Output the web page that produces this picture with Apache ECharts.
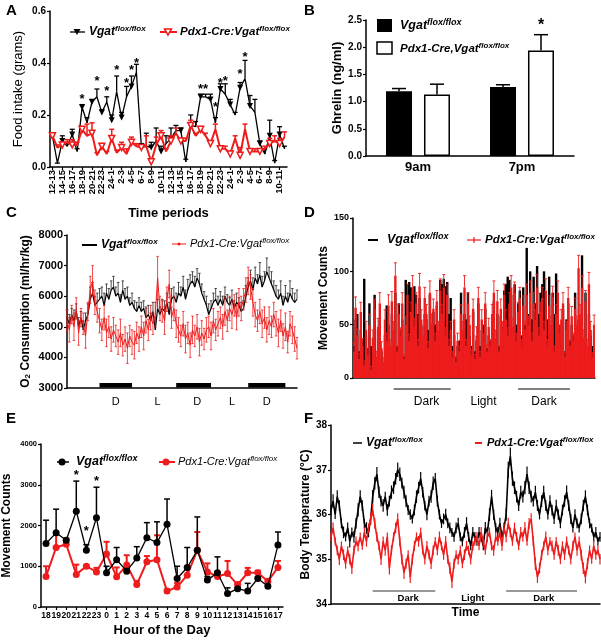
<!DOCTYPE html>
<html><head><meta charset="utf-8">
<script src="https://cdn.jsdelivr.net/npm/echarts@6.0.0/dist/echarts.min.js"></script>
<style>html,body{margin:0;padding:0;background:#fff}#c{width:601px;height:640px}</style>
</head><body><div id="c"></div>
<script>
// ---------- Panel A : food intake ----------
const aPeriods = ['12-13','13-14','14-15','15-16','16-17','17-18','18-19','19-20','20-21','21-22','22-23','23-24','24-1','1-2','2-3','3-4','4-5','5-6','6-7','7-8','8-9','9-10','10-11','11-12',
                  '12-13','13-14','14-15','15-16','16-17','17-18','18-19','19-20','20-21','21-22','22-23','23-24','24-1','1-2','2-3','3-4','4-5','5-6','6-7','7-8','8-9','9-10','10-11','11-12'];
const aVgat = [0.12,0.015,0.10,0.08,0.125,0.06,0.23,0.17,0.25,0.27,0.21,0.25,
               0.18,0.29,0.19,0.27,0.31,0.365,0.08,0.08,0.075,0.10,0.06,0.09,
               0.11,0.14,0.14,0.02,0.16,0.155,0.27,0.27,0.26,0.17,0.30,0.28,
               0.24,0.20,0.305,0.34,0.235,0.21,0.09,0.05,0.12,0.015,0.125,0.07];
const aVgatErr = [0.01,0.0,0.02,0.01,0.02,0.01,0.01,0.02,0.01,0.03,0.01,0.02,
                  0.02,0.06,0.02,0.04,0.04,0.03,0.01,0.05,0.02,0.05,0.02,0.03,
                  0.04,0.02,0.01,0.01,0.04,0.02,0.01,0.01,0.02,0.02,0.02,0.04,
                  0.02,0.01,0.02,0.07,0.04,0.05,0.01,0.02,0.06,0.01,0.03,0.01];
const aPdx = [0.12,0.075,0.085,0.095,0.085,0.085,0.145,0.12,0.13,0.045,0.08,0.05,
              0.11,0.055,0.075,0.05,0.095,0.08,0.075,0.08,0.02,0.085,0.12,0.06,
              0.10,0.13,0.10,0.10,0.16,0.12,0.145,0.12,0.09,0.145,0.07,0.07,
              0.05,0.11,0.045,0.145,0.06,0.06,0.06,0.07,0.09,0.10,0.09,0.115];
const aPdxErr = [0.0,0.01,0.01,0.01,0.02,0.01,0.01,0.045,0.04,0.01,0.01,0.01,
                 0.035,0.01,0.02,0.02,0.02,0.01,0.01,0.04,0.01,0.03,0.02,0.01,
                 0.02,0.02,0.01,0.01,0.02,0.01,0.01,0.01,0.01,0.02,0.01,0.01,
                 0.01,0.01,0.03,0.02,0.01,0.01,0.01,0.01,0.02,0.02,0.02,0.02];
const aStars = [[6,0.26],[9,0.33],[11,0.29],[13,0.37],[15,0.32],[16,0.37],[17,0.40],[30,0.30],[31,0.30],[33,0.23],[34,0.32],[35,0.33],[38,0.355],[39,0.42]];

// ---------- Panel B : ghrelin ----------
const bTimes = ['9am','7pm'];
const bVgat = [1.19,1.27];
const bVgatErr = [0.05,0.04];
const bPdx = [1.13,1.94];
const bPdxErr = [0.19,0.29];
const bStars = [[1,2.40]];

// ---------- Panel C : O2 consumption ----------
const cVgat = [5300,5100,5400,5200,5500,5000,5300,4900,5200,5400,
               5900,6100,5700,5800,5900,6000,5700,6100,5900,6200,
               6300,6000,6100,5800,6200,5900,6000,5700,5800,5600,
               5500,5700,5500,5600,5300,5400,5200,5500,4900,5600,
               5400,5600,5500,5800,5400,5900,6000,5800,6100,6000,
               6300,5900,6200,6400,6500,6300,6600,6400,6100,5900,
               5700,5400,5600,5800,5900,5700,5900,5700,6000,5800,
               5700,5900,5600,5800,5700,5500,5600,6000,6300,6500,
               6200,6600,6400,6700,6300,6500,6800,6600,6400,6200,
               6000,5900,6100,5700,6000,5800,6100,5900,5800,5900];
const cVgatErr = [250,300,200,350,250,300,200,300,250,350,
                  400,350,300,300,350,300,400,300,350,300,
                  350,300,350,250,300,350,300,250,300,250,
                  300,250,300,250,350,300,250,300,400,300,
                  250,300,350,300,400,350,300,300,350,300,
                  350,300,350,300,300,350,300,350,300,250,
                  300,350,250,300,350,300,250,300,300,250,
                  250,300,250,300,250,300,250,350,300,350,
                  400,350,300,400,350,300,450,350,400,300,
                  350,300,400,300,350,300,400,350,300,300];
const cPdx = [5200,4900,5400,5000,5600,4800,5300,5100,4700,5500,
              6200,6500,5800,5500,5200,4900,5300,4800,5000,4600,
              4900,4700,4500,4800,4400,4600,4300,4700,4500,4400,
              4800,4600,5000,4700,5200,4900,5300,5100,5400,6600,
              5600,5500,5200,5900,6400,5300,5600,5100,4900,4700,
              5100,4600,4800,4400,4900,4700,5000,4500,4800,4600,
              4900,5000,4700,5200,4900,5100,5300,5000,5500,5200,
              5600,5400,5700,5300,5800,5600,5900,6200,6500,6300,
              5800,5400,5200,5500,5100,5300,4900,5200,5000,5400,
              5100,4800,5200,4700,5000,4500,5100,4900,4600,4300];
const cPdxErr = [350,400,300,450,350,400,300,350,400,300,
                 450,500,400,350,400,350,400,450,350,400,
                 400,350,400,450,350,400,500,350,400,450,
                 350,400,350,450,400,350,400,350,400,700,
                 400,350,450,400,450,350,400,450,400,350,
                 400,450,350,400,450,350,400,450,400,350,
                 400,350,450,400,350,400,350,400,450,350,
                 400,450,350,400,450,400,350,400,450,400,
                 450,400,350,400,450,350,400,450,350,400,
                 400,450,350,400,450,350,400,450,400,350];
const cDarkBars = [[14,28],[47,62],[78,94]];
const cPhaseAt = [21,39,56,71,86];
const cPhaseText = ['D','L','D','L','D'];

// ---------- Panel D : movement counts (bars) ----------
const dVgat = [30,55,60,25,45,35,93,40,28,70,
               30,20,78,18,45,55,25,12,40,68,
               50,25,60,35,80,30,70,45,55,20,
               92,88,90,85,80,86,78,60,75,50,
               35,60,55,45,78,40,62,50,68,30,
               92,88,93,86,90,60,75,30,40,20,
               30,35,80,45,60,55,80,40,30,62,
               25,35,70,30,45,50,65,28,40,35,
               50,72,35,60,30,58,48,82,88,95,
               92,78,45,88,50,70,82,40,85,50,
               122,60,100,55,95,70,105,60,80,88,
               100,70,55,95,45,80,60,98,65,50,
               40,65,25,55,70,35,50,40,80,45,
               55,50,115,35,80,25,60,40,30,45];
const dPdx = [25,66,40,18,62,30,12,45,22,50,
              8,38,65,20,48,70,28,15,55,35,
              68,30,72,45,96,25,60,40,70,18,
              50,78,35,62,85,48,70,30,86,55,
              40,75,60,28,80,52,65,35,72,45,
              82,60,85,40,78,30,45,20,55,15,
              35,25,60,45,85,30,70,50,22,65,
              18,40,75,20,55,35,70,25,48,30,
              60,80,38,72,25,65,45,78,55,40,
              70,85,48,80,35,62,75,30,68,45,
              78,50,80,35,70,55,85,40,62,75,
              45,82,30,68,50,76,25,60,80,42,
              55,70,20,45,75,30,58,35,65,50,
              103,60,85,38,72,30,88,45,20,50];
const dPdxErr = [8,10,6,5,9,7,4,8,6,10,
                 3,7,9,5,8,10,6,4,9,7,
                 10,6,9,8,12,5,9,7,10,4,
                 8,10,6,9,11,8,10,6,12,9,
                 7,10,9,6,11,8,9,7,10,8,
                 11,9,12,7,10,6,8,5,9,4,
                 7,5,9,8,11,6,10,8,5,9,
                 4,8,10,5,9,7,10,6,8,6,
                 9,11,7,10,5,9,8,10,9,7,
                 10,11,8,10,7,9,10,6,9,8,
                 10,8,11,7,10,9,12,7,9,10,
                 8,11,6,9,8,10,5,9,11,7,
                 9,10,4,8,10,6,9,7,10,8,
                 12,9,11,7,10,6,11,8,4,9];
const dDarkLines = [[23,56],[95,125]];
const dPhaseAt = [42,75,110];
const dPhaseText = ['Dark','Light','Dark'];

// ---------- Panel E : hourly movement ----------
const eHours = ['18','19','20','21','22','23','0','1','2','3','4','5','6','7','8','9','10','11','12','13','14','15','16','17'];
const eVgat = [1560,1820,1640,2350,1390,2190,840,1160,880,1200,1700,1580,2030,700,970,1390,660,840,330,450,390,700,510,1520];
const eVgatErr = [570,580,40,740,140,750,160,300,60,280,370,510,620,300,490,820,90,390,140,30,190,40,20,320];
const ePdx = [750,1460,1540,800,1000,860,1300,740,1030,550,1110,1160,390,490,780,1390,860,750,820,550,840,840,630,970];
const ePdxErr = [250,320,140,240,20,100,300,230,240,90,140,600,40,100,220,450,210,110,310,30,120,50,50,160];
const eStars = [[3,3230],[4,1850],[5,3080]];

// ---------- Panel F : body temperature ----------
const fVgat = [36.1,36.3,36.0,36.4,36.2,35.8,35.6,35.5,35.7,35.4,
               35.6,35.5,35.8,36.1,36.4,36.2,35.8,35.7,35.6,35.9,
               36.4,36.7,36.9,36.5,36.3,36.2,36.4,36.1,36.3,36.5,
               36.6,36.8,37.0,36.9,36.7,36.5,36.3,36.1,36.0,35.9,
               36.1,36.4,36.6,36.8,36.5,36.2,36.0,36.3,36.4,36.7,
               36.8,36.3,36.0,35.8,35.9,36.0,35.8,35.7,35.6,35.5,
               35.7,35.8,35.5,35.4,35.6,35.8,35.5,35.3,35.6,35.5,
               35.4,35.6,35.5,35.3,35.7,35.6,36.0,36.4,36.0,35.7,
               35.6,35.8,35.5,35.7,36.0,37.0,37.3,36.8,36.6,36.4,
               36.2,36.5,36.4,36.6,36.9,36.6,36.4,36.3,36.5,36.2,
               36.0,36.3,36.5,36.2,36.0,36.3,36.1,35.9,36.2,36.0,
               35.8,36.1,36.3,36.5,36.2,35.9,35.7,36.0,35.8,35.7,
               35.9,36.2,36.4,36.1,35.8,35.7,35.5,35.6,35.4,35.5];
const fVgatErr = [0.12,0.15,0.10,0.14,0.12,0.11,0.13,0.10,0.12,0.14,
                  0.11,0.13,0.12,0.15,0.14,0.12,0.10,0.13,0.11,0.12,
                  0.15,0.14,0.16,0.13,0.12,0.14,0.11,0.13,0.12,0.15,
                  0.14,0.13,0.16,0.15,0.12,0.14,0.13,0.11,0.12,0.10,
                  0.12,0.14,0.13,0.15,0.12,0.11,0.13,0.12,0.14,0.15,
                  0.13,0.12,0.11,0.10,0.12,0.13,0.11,0.12,0.10,0.11,
                  0.12,0.13,0.10,0.11,0.12,0.14,0.11,0.10,0.12,0.11,
                  0.10,0.12,0.11,0.10,0.13,0.12,0.14,0.15,0.12,0.11,
                  0.12,0.13,0.11,0.12,0.14,0.18,0.20,0.16,0.14,0.13,
                  0.12,0.14,0.13,0.15,0.17,0.14,0.13,0.12,0.14,0.12,
                  0.11,0.13,0.14,0.12,0.11,0.13,0.12,0.11,0.13,0.12,
                  0.11,0.12,0.13,0.15,0.12,0.11,0.10,0.12,0.11,0.10,
                  0.12,0.13,0.14,0.12,0.11,0.10,0.11,0.12,0.10,0.11];
const fPdx = [35.5,35.7,35.4,35.2,35.0,35.3,35.1,34.9,35.2,35.0,
              34.8,35.2,35.4,35.3,35.5,35.3,35.6,35.4,35.7,35.9,
              36.1,35.8,35.5,35.3,35.0,35.4,35.2,35.5,34.8,35.2,
              35.5,35.7,35.9,35.4,35.0,34.7,34.9,35.1,34.6,35.0,
              35.3,35.5,35.4,35.6,35.2,35.0,35.3,35.1,34.9,35.2,
              35.4,35.2,35.5,35.3,35.1,35.4,35.0,34.8,34.5,34.9,
              35.1,35.0,35.2,34.9,35.1,35.3,35.2,35.0,35.3,35.4,
              35.5,35.3,35.6,35.4,35.2,35.5,35.6,35.3,35.2,35.5,
              35.4,35.6,35.3,35.7,35.5,35.8,35.6,35.4,35.7,35.5,
              35.3,35.6,35.5,35.7,35.4,35.8,35.9,35.4,34.9,34.6,
              34.8,35.1,35.3,35.5,35.2,35.4,35.3,35.1,35.4,35.2,
              35.0,35.3,35.1,35.4,35.2,35.0,35.3,35.5,35.2,35.4,
              35.1,34.8,34.6,34.9,35.2,35.0,35.3,35.1,35.2,35.0];
const fPdxErr = [0.10,0.12,0.09,0.11,0.13,0.10,0.12,0.11,0.09,0.12,
                 0.13,0.10,0.11,0.12,0.10,0.09,0.11,0.12,0.10,0.13,
                 0.14,0.12,0.11,0.10,0.13,0.11,0.12,0.10,0.14,0.11,
                 0.10,0.12,0.13,0.11,0.12,0.14,0.11,0.10,0.13,0.12,
                 0.11,0.10,0.12,0.11,0.10,0.12,0.11,0.10,0.12,0.11,
                 0.10,0.11,0.12,0.10,0.11,0.12,0.10,0.13,0.14,0.11,
                 0.10,0.12,0.11,0.10,0.12,0.11,0.10,0.12,0.11,0.10,
                 0.11,0.10,0.12,0.11,0.10,0.12,0.11,0.10,0.12,0.11,
                 0.10,0.12,0.11,0.10,0.12,0.13,0.11,0.10,0.12,0.11,
                 0.10,0.12,0.11,0.13,0.10,0.12,0.13,0.11,0.14,0.13,
                 0.12,0.11,0.10,0.12,0.11,0.10,0.12,0.11,0.10,0.12,
                 0.11,0.10,0.12,0.11,0.10,0.12,0.11,0.10,0.12,0.11,
                 0.12,0.13,0.14,0.12,0.11,0.10,0.12,0.11,0.10,0.12];
const fDarkLines = [[20,50],[84,118]];
const fPhaseAt = [37,68,102];
const fPhaseText = ['Dark','Light','Dark'];

// ================= chart =================
const FF = '"Liberation Sans", Arial, Helvetica, sans-serif';
const RED = '#ee1c1c';
const idx = n => Array.from({length:n}, (_, i) => String(i));

function errSeries(gi, vals, errs, color, o) {
  return {
    type:'custom', xAxisIndex:gi, yAxisIndex:gi, silent:true, z:o.z||2,
    data: vals.map((v,i)=>[i, v, errs[i]]),
    renderItem: function(p, api) {
      const x = api.value(0), y = api.value(1), e = api.value(2);
      const off = o.off || 0;
      const p0 = api.coord([x, y]);
      const pu = api.coord([x, y + e]);
      const pd = o.both ? api.coord([x, y - e]) : p0;
      const cx = p0[0] + off, w = o.cap/2;
      const st = {stroke:color, lineWidth:o.lw};
      const ch = [{type:'line', shape:{x1:cx, y1:pd[1], x2:cx, y2:pu[1]}, style:st}];
      if (w > 0) ch.push({type:'line', shape:{x1:cx-w, y1:pu[1], x2:cx+w, y2:pu[1]}, style:st});
      if (o.both && w > 0) ch.push({type:'line', shape:{x1:cx-w, y1:pd[1], x2:cx+w, y2:pd[1]}, style:st});
      return {type:'group', children:ch};
    }
  };
}
function starSeries(gi, stars, size, off) {
  return {
    type:'custom', xAxisIndex:gi, yAxisIndex:gi, silent:true, z:5,
    data: stars,
    renderItem: function(p, api) {
      const pt = api.coord([api.value(0), api.value(1)]);
      return {type:'text', x:pt[0] + (off||0), y:pt[1],
        style:{text:'*', fontFamily:FF, fontWeight:'bold', fontSize:size, fill:'#000', align:'center', verticalAlign:'middle'}};
    }
  };
}
function phaseMarks(gi, spans, kind) {
  return {
    type:'custom', xAxisIndex:gi, yAxisIndex:gi, silent:true, z:4,
    data: spans,
    renderItem: function(p, api) {
      const cs = p.coordSys, bottom = cs.y + cs.height;
      const x0 = api.coord([api.value(0), 0])[0], x1 = api.coord([api.value(1), 0])[0];
      if (kind === 'C') return {type:'rect', shape:{x:x0, y:bottom-5, width:x1-x0, height:4.5}, style:{fill:'#000'}};
      if (kind === 'D') return {type:'line', shape:{x1:x0, y1:bottom+11, x2:x1, y2:bottom+11}, style:{stroke:'#000', lineWidth:1.2}};
      return {type:'line', shape:{x1:x0, y1:bottom-13, x2:x1, y2:bottom-13}, style:{stroke:'#333', lineWidth:1.2}};
    }
  };
}
function phaseLabels(gi, at, texts, dy, size, weight) {
  return {
    type:'custom', xAxisIndex:gi, yAxisIndex:gi, silent:true, z:4,
    data: at.map((a,i)=>[a, i]),
    renderItem: function(p, api) {
      const cs = p.coordSys, bottom = cs.y + cs.height;
      const x = api.coord([api.value(0), 0])[0];
      return {type:'text', x:x, y:bottom+dy,
        style:{text:texts[api.value(1)], fontFamily:FF, fontSize:size, fontWeight:weight, fill:'#000', align:'center', verticalAlign:'middle'}};
    }
  };
}

const axLine = {show:true, lineStyle:{color:'#000', width:1.5}};
const plain = v => String(v);
function yAx(gi, min, max, interval, name, gap, lblSize, nameSize, fmt, nameW, rich) {
  return {type:'value', gridIndex:gi, min:min, max:max, interval:interval,
    axisLine:axLine, axisTick:{show:true, length:3, lineStyle:{color:'#000', width:1.2}},
    splitLine:{show:false},
    axisLabel:{fontFamily:FF, fontWeight:'bold', fontSize:lblSize, color:'#000', margin:4, formatter:fmt||plain},
    name:name, nameLocation:'middle', nameGap:gap,
    nameTextStyle:{fontFamily:FF, fontWeight:nameW||'bold', fontSize:nameSize, color:'#000', rich:rich}};
}
function xCat(gi, data, extra) {
  return Object.assign({type:'category', gridIndex:gi, data:data, axisLine:axLine,
    axisTick:{show:false}, axisLabel:{show:false}, splitLine:{show:false}}, extra||{});
}
function supText(x, y, main, sup, size, weight) {
  const ss = Math.round(size*0.7);
  return {type:'text', x:x, y:y, style:{
    text:'{m|'+main+'}{s|'+sup+'}', verticalAlign:'middle', align:'left',
    rich:{
      m:{fontFamily:FF, fontSize:size, fontStyle:'italic', fontWeight:weight, fill:'#000', lineHeight:size+3},
      s:{fontFamily:FF, fontSize:ss, fontStyle:'italic', fontWeight:weight, fill:'#000', verticalAlign:'top', lineHeight:ss+1}
    }}};
}
function letter(t, x, y) {
  return {type:'text', x:x, y:y, style:{text:t, fontFamily:FF, fontWeight:'bold', fontSize:15, fill:'#000', verticalAlign:'top'}};
}
const L = (x1,y1,x2,y2,c,w) => ({type:'line', shape:{x1,y1,x2,y2}, style:{stroke:c, lineWidth:w}});

const option = {
  animation:false,
  backgroundColor:'#fff',
  textStyle:{fontFamily:FF},
  grid:[
    {left:50, top:11, width:237, height:156},
    {left:366, top:20, width:208, height:136},
    {left:67, top:235, width:230, height:153},
    {left:353, top:218, width:242, height:160},
    {left:41, top:444, width:242, height:163},
    {left:331, top:425, width:269, height:179}
  ],
  xAxis:[
    xCat(0, aPeriods, {boundaryGap:true,
      axisTick:{show:true, interval:1, alignWithLabel:true, length:3, lineStyle:{color:'#000', width:1.2}},
      axisLabel:{show:true, interval:1, rotate:90, fontFamily:FF, fontWeight:'bold', fontSize:9.5, color:'#000', margin:3},
      name:'Time periods', nameLocation:'middle', nameGap:40,
      nameTextStyle:{fontFamily:FF, fontWeight:'bold', fontSize:13, color:'#000'}}),
    xCat(1, bTimes, {boundaryGap:true,
      axisLabel:{show:true, fontFamily:FF, fontWeight:'bold', fontSize:13, color:'#000', margin:5}}),
    xCat(2, idx(cVgat.length), {boundaryGap:false}),
    xCat(3, idx(dVgat.length), {boundaryGap:true}),
    xCat(4, eHours, {boundaryGap:true,
      axisTick:{show:true, alignWithLabel:true, length:3, lineStyle:{color:'#000', width:1.2}},
      axisLabel:{show:true, interval:0, fontFamily:FF, fontWeight:'bold', fontSize:8.5, color:'#000', margin:4},
      name:'Hour of the Day', nameLocation:'middle', nameGap:17,
      nameTextStyle:{fontFamily:FF, fontWeight:'bold', fontSize:13, color:'#000'}}),
    xCat(5, idx(fVgat.length), {boundaryGap:false,
      name:'Time', nameLocation:'middle', nameGap:3,
      nameTextStyle:{fontFamily:FF, fontWeight:'bold', fontSize:12, color:'#000'}})
  ],
  yAxis:[
    yAx(0, 0, 0.6, 0.2, 'Food intake (grams)', 25, 10, 13, v=>v.toFixed(1), 'normal'),
    yAx(1, 0, 2.5, 0.5, 'Ghrelin (ng/ml)', 21, 10, 13, v=>v.toFixed(1)),
    yAx(2, 3000, 8000, 1000, '{a|O}{s|2}{a| Consumption (ml/hr/kg)}', 35, 11, 12, null, 'bold',
      {a:{fontFamily:FF, fontWeight:'bold', fontSize:12, color:'#000'},
       s:{fontFamily:FF, fontWeight:'bold', fontSize:8, color:'#000', verticalAlign:'bottom'}}),
    yAx(3, 0, 150, 50, 'Movement Counts', 20, 9, 12),
    yAx(4, 0, 4000, 1000, 'Movement Counts', 28, 7.5, 12),
    yAx(5, 34, 38, 1, 'Body Temperature (°C)', 16, 10, 12)
  ],
  series:[
    // A
    errSeries(0, aVgat, aVgatErr, '#000', {cap:5, lw:1.3, z:2}),
    {type:'line', xAxisIndex:0, yAxisIndex:0, data:aVgat, z:3, symbol:'triangle', symbolRotate:180, symbolSize:6,
      lineStyle:{color:'#000', width:1.3}, itemStyle:{color:'#000'}},
    errSeries(0, aPdx, aPdxErr, RED, {cap:5, lw:1.5, z:4}),
    {type:'line', xAxisIndex:0, yAxisIndex:0, data:aPdx, z:5, symbol:'triangle', symbolRotate:180, symbolSize:6,
      lineStyle:{color:RED, width:2}, itemStyle:{color:'#fff', borderColor:RED, borderWidth:1.5}},
    starSeries(0, aStars, 13),
    // B
    {type:'bar', xAxisIndex:1, yAxisIndex:1, data:bVgat, barWidth:26, barGap:'46%',
      itemStyle:{color:'#000', borderColor:'#000', borderWidth:1.5}},
    {type:'bar', xAxisIndex:1, yAxisIndex:1, data:bPdx, barWidth:26, barGap:'46%',
      itemStyle:{color:'#fff', borderColor:'#000', borderWidth:1.5}},
    errSeries(1, bVgat, bVgatErr, '#000', {cap:14, lw:1.5, off:-19, z:1}),
    errSeries(1, bPdx, bPdxErr, '#000', {cap:14, lw:1.5, off:19, z:1}),
    starSeries(1, bStars, 16, 19),
    // C
    errSeries(2, cVgat, cVgatErr, '#222', {cap:2.5, lw:0.8, z:1}),
    {type:'line', xAxisIndex:2, yAxisIndex:2, data:cVgat, z:2, symbol:'none', lineStyle:{color:'#000', width:1.2}},
    errSeries(2, cPdx, cPdxErr, RED, {cap:2.5, lw:0.8, both:true, z:3}),
    {type:'line', xAxisIndex:2, yAxisIndex:2, data:cPdx, z:3, symbol:'circle', symbolSize:2,
      lineStyle:{color:RED, width:1}, itemStyle:{color:RED}},
    phaseMarks(2, cDarkBars, 'C'),
    phaseLabels(2, cPhaseAt, cPhaseText, 14, 11, 'normal'),
    // D
    {type:'bar', xAxisIndex:3, yAxisIndex:3, data:dVgat, barWidth:2.4, barGap:'-100%', z:2,
      itemStyle:{color:'#000'}},
    {type:'bar', xAxisIndex:3, yAxisIndex:3, data:dPdx, barWidth:2.4, barGap:'-100%', z:3,
      itemStyle:{color:RED}},
    errSeries(3, dPdx, dPdxErr, RED, {cap:3, lw:0.9, z:3}),
    phaseMarks(3, dDarkLines, 'D'),
    phaseLabels(3, dPhaseAt, dPhaseText, 24, 12, 'normal'),
    // E
    errSeries(4, ePdx, ePdxErr, RED, {cap:6, lw:2, z:2}),
    {type:'line', xAxisIndex:4, yAxisIndex:4, data:ePdx, z:3, symbol:'circle', symbolSize:7,
      lineStyle:{color:RED, width:2}, itemStyle:{color:RED}},
    errSeries(4, eVgat, eVgatErr, '#000', {cap:6, lw:1.5, z:4}),
    {type:'line', xAxisIndex:4, yAxisIndex:4, data:eVgat, z:5, symbol:'circle', symbolSize:7,
      lineStyle:{color:'#000', width:1.3}, itemStyle:{color:'#000'}},
    starSeries(4, eStars, 13),
    // F
    errSeries(5, fVgat, fVgatErr, '#000', {cap:0, lw:1.2, both:true, z:2}),
    {type:'line', xAxisIndex:5, yAxisIndex:5, data:fVgat, z:2, symbol:'none', lineStyle:{color:'#000', width:1.6}},
    errSeries(5, fPdx, fPdxErr, RED, {cap:0, lw:1.2, both:true, z:3}),
    {type:'line', xAxisIndex:5, yAxisIndex:5, data:fPdx, z:3, symbol:'none', lineStyle:{color:RED, width:1.6}},
    phaseMarks(5, fDarkLines, 'F'),
    phaseLabels(5, fPhaseAt, fPhaseText, -6, 9.5, 'bold')
  ],
  graphic:[
    letter('A', 6, 3), letter('B', 304, 3), letter('C', 6, 205), letter('D', 304, 205), letter('E', 6, 411), letter('F', 304, 411),
    // A legend
    L(70,32,85,32,'#000',1.3),
    {type:'polygon', shape:{points:[[73.5,29],[80.5,29],[77,35]]}, style:{fill:'#000'}},
    supText(89, 32, 'Vgat', 'flox/flox', 12, 'bold'),
    L(160,32,177,32,RED,2),
    {type:'polygon', shape:{points:[[164.5,29],[171.5,29],[168,35]]}, style:{fill:'#fff', stroke:RED, lineWidth:1.5}},
    supText(180, 32, 'Pdx1-Cre:Vgat', 'flox/flox', 11.5, 'bold'),
    // B legend
    {type:'rect', shape:{x:377, y:19, width:15, height:13}, style:{fill:'#000'}},
    supText(400, 26, 'Vgat', 'flox/flox', 12.5, 'bold'),
    {type:'rect', shape:{x:377, y:42, width:15, height:12}, style:{fill:'#fff', stroke:'#000', lineWidth:1.5}},
    supText(400, 49, 'Pdx1-Cre,Vgat', 'flox/flox', 11.5, 'bold'),
    // C legend
    L(82,245,97,245,'#000',2),
    supText(101, 245, 'Vgat', 'flox/flox', 12, 'bold'),
    L(172,244,186,244,RED,1),
    {type:'circle', shape:{cx:179, cy:244, r:1.5}, style:{fill:RED}},
    supText(190, 244, 'Pdx1-Cre:Vgat', 'flox/flox', 11, 'normal'),
    // D legend
    L(368,240,378,240,'#000',2),
    supText(387, 240, 'Vgat', 'flox/flox', 12.5, 'bold'),
    L(467,240,481,240,RED,1.2),
    L(474,237,474,243,RED,1.2),
    supText(485, 240, 'Pdx1-Cre:Vgat', 'flox/flox', 11.5, 'bold'),
    // E legend
    L(57,462,69,462,'#000',1.5),
    {type:'circle', shape:{cx:62, cy:462, r:3.5}, style:{fill:'#000'}},
    supText(76, 462, 'Vgat', 'flox/flox', 12.5, 'bold'),
    L(159,462,175,462,RED,2),
    {type:'circle', shape:{cx:166, cy:462, r:3.5}, style:{fill:RED}},
    supText(178, 462, 'Pdx1-Cre:Vgat', 'flox/flox', 11, 'normal'),
    // F legend
    L(353,443,362,443,'#000',1.5),
    supText(366, 443, 'Vgat', 'flox/flox', 12, 'bold'),
    L(475,443,482,443,RED,2),
    supText(487, 443, 'Pdx1-Cre:Vgat', 'flox/flox', 11, 'bold')
  ]
};
const chart = echarts.init(document.getElementById('c'), null, {renderer:'canvas'});
chart.setOption(option);
</script></body></html>
